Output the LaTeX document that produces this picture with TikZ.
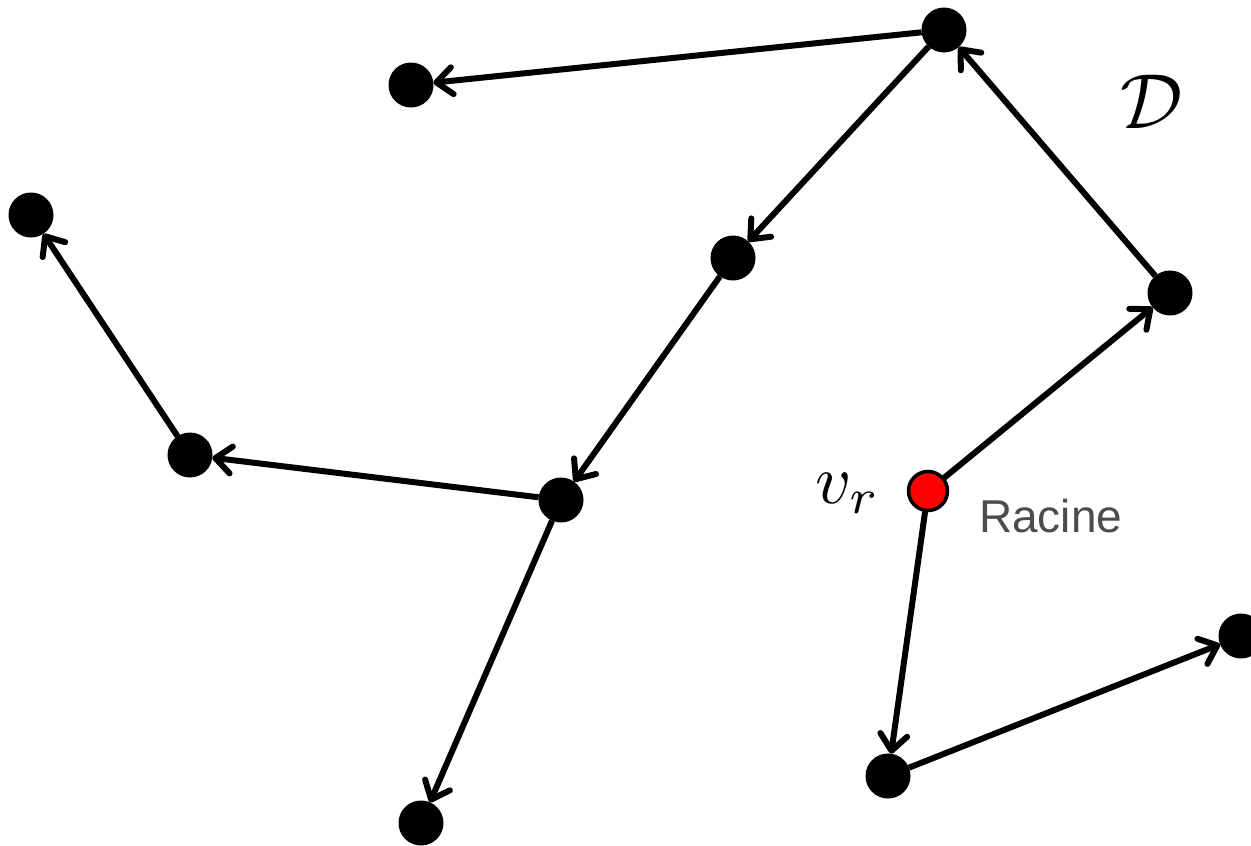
\documentclass[tikz,border=0pt]{standalone}
\usepackage{fontspec}
\newfontfamily\arialfont{Liberation Sans}
\usetikzlibrary{arrows.meta}
\begin{document}
\begin{tikzpicture}[x=1pt,y=-1pt,
  vtx/.style={circle,fill=black,inner sep=0pt,outer sep=0pt,minimum size=45pt},
  root/.style={circle,fill=red,draw=black,line width=3.5pt,inner sep=0pt,outer sep=0pt,minimum size=39pt},
  arc/.style={line width=6pt,-{Straight Barb[length=16pt,width=27pt,round]}}]
\useasboundingbox (0,0) rectangle (1251,846);
\node[vtx] (A) at (944,30) {};
\node[vtx] (B) at (411,85) {};
\node[vtx] (C) at (31,215) {};
\node[vtx] (D) at (733,258) {};
\node[vtx] (E) at (1170,293) {};
\node[vtx] (F) at (190,455) {};
\node[vtx] (G) at (561,500) {};
\node[root] (R) at (928,491) {};
\node[vtx] (H) at (1241,636) {};
\node[vtx] (I) at (888,776) {};
\node[vtx] (J) at (421,823) {};
\draw[arc] (R) -- (E);
\draw[arc] (E) -- (A);
\draw[arc] (A) -- (B);
\draw[arc] (A) -- (D);
\draw[arc] (D) -- (G);
\draw[arc] (G) -- (F);
\draw[arc] (F) -- (C);
\draw[arc] (G) -- (J);
\draw[arc] (R) -- (I);
\draw[arc] (I) -- (H);
\node[anchor=base,inner sep=0pt,scale=7.8] (lD) at (1152,128) {$\mathcal{D}$};
\node[anchor=base west,inner sep=0pt,scale=7] (lv) at (814,503) {$v_r$};
\node[anchor=base west,inner sep=0pt,text={rgb,255:red,75;green,75;blue,80}] (lr) at (979,532) {\arialfont\fontsize{46}{50}\selectfont Racine};
\end{tikzpicture}
\end{document}
